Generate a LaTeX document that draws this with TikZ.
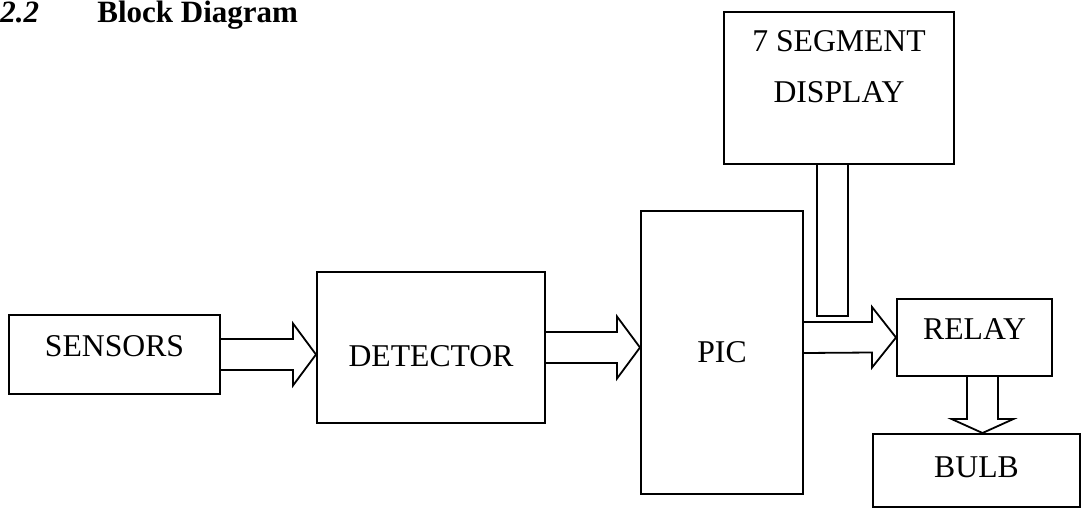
\documentclass[tikz,border=0pt]{standalone}
\usepackage{fontspec}
\setmainfont{Liberation Serif}
\usetikzlibrary{calc}

\begin{document}
\begin{tikzpicture}[
  x=0.5pt, y=-0.5pt,
  box/.style={rectangle, draw, line width=1pt, inner sep=0pt, align=center, font=\fontsize{15.85}{25.5}\selectfont},
  blk/.style={draw, line width=0.9pt, line join=miter},
  head/.style={inner sep=0pt, anchor=base west, font=\fontsize{15.5}{18}\selectfont\bfseries}
]
\useasboundingbox (0,0) rectangle (1082,509);

% heading
\node[head] (secnum) at (0,22) {\itshape 2.2};
\node[head] (title) at (97,22) {Block Diagram};

% blocks
\node[box, minimum width=105.5pt, minimum height=39.5pt, text depth=8.5pt] (sensors) at (114.5,354.5) {SENSORS};
\node[box, minimum width=114pt, minimum height=75.5pt, text height=19.2pt] (detector) at (431,347.5) {DETECTOR};
\node[box, minimum width=81pt, minimum height=141.5pt] (pic) at (722,352.5) {PIC};
\node[box, minimum width=115pt, minimum height=76pt, text depth=21pt] (seg) at (839,88) {7 SEGMENT\\DISPLAY};
\node[box, minimum width=77.5pt, minimum height=38.5pt, text depth=8.5pt] (relay) at (974.5,337.5) {RELAY};
\node[box, minimum width=103.5pt, minimum height=36.5pt, text depth=3.5pt] (bulb) at (976.5,470.5) {BULB};

% hollow arrows
\draw[blk] ($(sensors.east)+(0,-15.5)$) -- ($(sensors.east -| detector.west)+(-23,-15.5)$) -- ++(0,-15.5)
  -- (sensors.east -| detector.west) -- ++(-23,31) -- ++(0,-15.5) -- ($(sensors.east)+(0,15.5)$);
\draw[blk] ($(detector.east)+(0,-15.5)$) -- ($(detector.east -| pic.west)+(-23,-15.5)$) -- ++(0,-15.5)
  -- (detector.east -| pic.west) -- ++(-23,31) -- ++(0,-15.5) -- ($(detector.east)+(0,15.5)$);
\draw[blk] ($(relay.west -| pic.east)+(0,-15.5)$) -- ($(relay.west)+(-24,-15.5)$) -- ++(0,-15)
  -- (relay.west) -- ++(-24,30) -- ++(0,-15) -- ($(relay.west -| pic.east)+(0,15.5)$);
\coordinate (drop) at ($(relay.south)+(8,0)$);
\draw[blk] ($(drop)+(-15.5,0)$) -- ($(drop |- bulb.north)+(-15.5,-14)$) -- ++(-15.5,0)
  -- (drop |- bulb.north) -- ++(31,-14) -- ++(-15.5,0) -- ($(drop)+(15.5,0)$);

% bus from the display
\draw[blk] ($(seg.south)+(-22,0)$) -- ++(0,151) -- ++(31,0) -- ($(seg.south)+(9,0)$);
\end{tikzpicture}
\end{document}
